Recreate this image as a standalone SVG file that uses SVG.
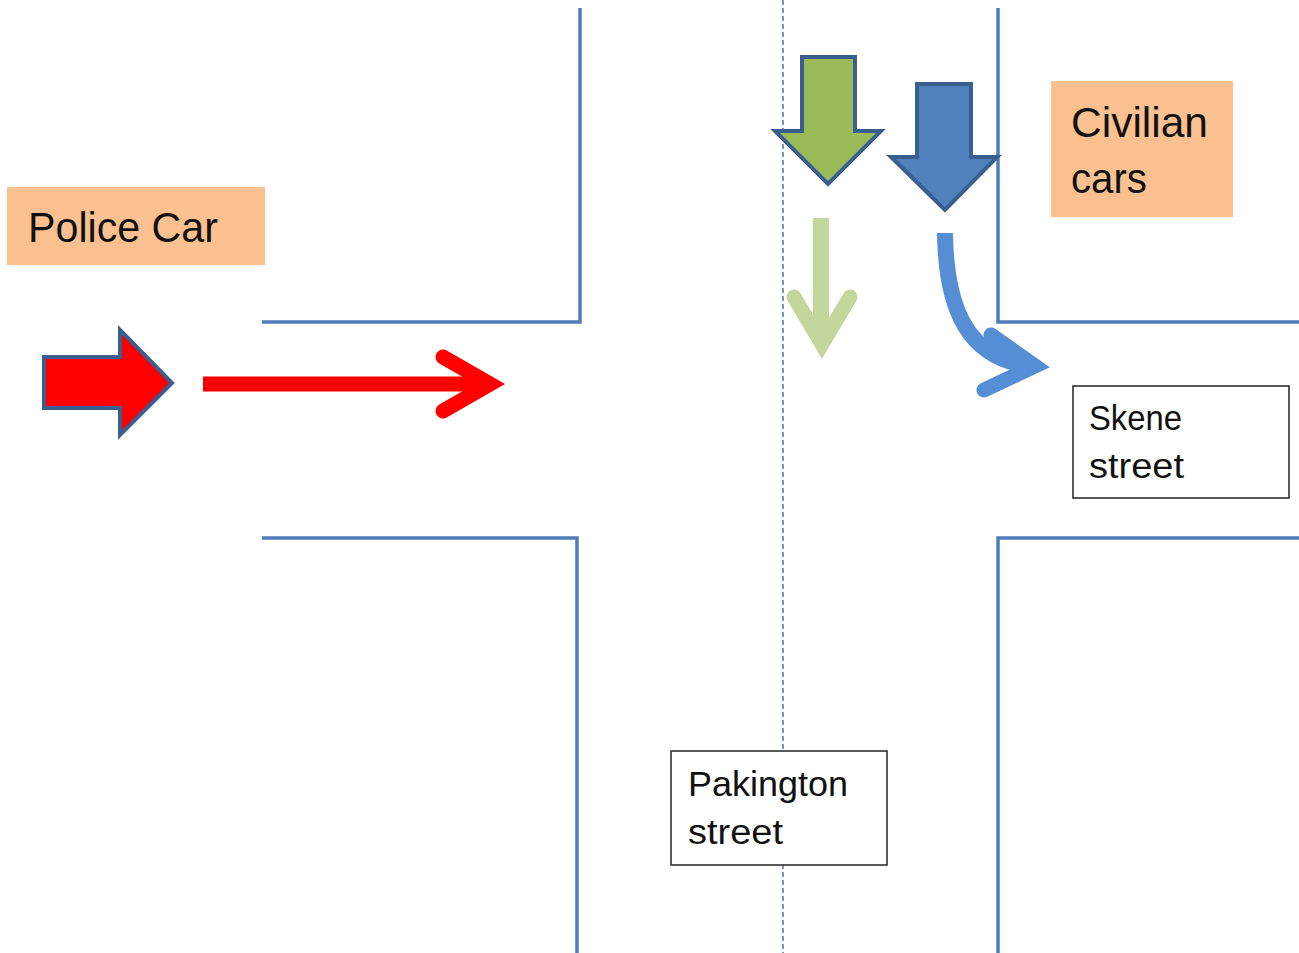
<svg xmlns="http://www.w3.org/2000/svg" width="1299" height="953" viewBox="0 0 1299 953">
<style>
.road{stroke:#4F7DB8;stroke-width:3.5;fill:none}
.lbl{fill:#FAC090}
.box{fill:#fff;stroke:#222;stroke-width:1.5}
.t{font-family:"Liberation Sans",Arial,sans-serif;fill:#111}
.blk{stroke:#3A5F8F;stroke-width:4;stroke-linejoin:miter}
</style>
<rect width="1299" height="953" fill="#fff"/>
<g id="roads">
<path class="road" d="M580,8 V322 H262"/>
<path class="road" d="M998,8 V322 H1299"/>
<path class="road" d="M262,538 H577 V953"/>
<path class="road" d="M1299,538 H998 V953"/>
<line x1="783" y1="0" x2="783" y2="953" stroke="#3A5F8F" stroke-width="1.3" stroke-dasharray="5,3"/>
</g>
<g id="police-arrow">
<polygon class="blk" fill="#FF0000" points="44,357 120,357 120,330 172,383 120,435 120,408 44,408"/>
</g>
<g id="green-arrow">
<polygon class="blk" fill="#9BBB59" points="802,57 855,57 855,131 881,131 828,184 775,131 802,131"/>
</g>
<g id="blue-arrow">
<polygon class="blk" fill="#4F81BD" points="917,84 971,84 971,157 997,157 945,210 891,157 917,157"/>
</g>
<g id="connectors">
<path d="M203,384 H485" stroke="#FF0000" stroke-width="15" fill="none"/>
<path d="M443,357 L490,384 L443,411" stroke="#FF0000" stroke-width="15" fill="none" stroke-linecap="round" stroke-linejoin="miter"/>
<path d="M821,218 V340" stroke="#C3D69B" stroke-width="16" fill="none"/>
<path d="M794,297 L822,344 L850,297" stroke="#C3D69B" stroke-width="15" fill="none" stroke-linecap="round"/>
<path d="M945,233 C946,310 968,358 1030,366" stroke="#558ED5" stroke-width="16" fill="none"/>
<path d="M991,335 L1035,366 L984,390" stroke="#558ED5" stroke-width="15" fill="none" stroke-linecap="round"/>
</g>
<g id="police-label">
<rect class="lbl" x="7" y="187" width="258" height="78"/>
<text class="t" x="28" y="242" font-size="42" textLength="190" lengthAdjust="spacingAndGlyphs">Police Car</text>
</g>
<g id="civilian-label">
<rect class="lbl" x="1051" y="81" width="182" height="136"/>
<text class="t" x="1071" y="137" font-size="42" textLength="137" lengthAdjust="spacingAndGlyphs">Civilian</text>
<text class="t" x="1071" y="193" font-size="42" textLength="76" lengthAdjust="spacingAndGlyphs">cars</text>
</g>
<g id="skene">
<rect class="box" x="1073" y="386" width="216" height="112"/>
<text class="t" x="1089" y="430" font-size="35" textLength="93" lengthAdjust="spacingAndGlyphs">Skene</text>
<text class="t" x="1089" y="478" font-size="35" textLength="95" lengthAdjust="spacingAndGlyphs">street</text>
</g>
<g id="pakington">
<rect class="box" x="671" y="751" width="216" height="114"/>
<text class="t" x="688" y="796" font-size="35" textLength="160" lengthAdjust="spacingAndGlyphs">Pakington</text>
<text class="t" x="688" y="844" font-size="35" textLength="95" lengthAdjust="spacingAndGlyphs">street</text>
</g>
</svg>
